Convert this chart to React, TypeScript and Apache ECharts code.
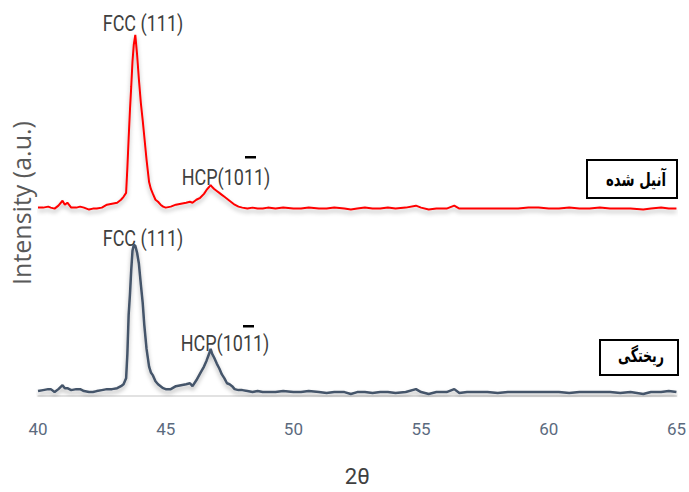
import React, { useEffect, useRef } from "react";
import * as echarts from "echarts";

// 2θ sampling positions (degrees)
const twoTheta = [
  40.0, 40.2, 40.4, 40.5, 40.65, 40.8, 40.96, 41.05, 41.15, 41.3, 41.5, 41.65, 41.8, 42.0, 42.15, 42.3, 42.5, 42.7, 42.9, 43.1,
  43.25, 43.35, 43.45, 43.5, 43.55, 43.6, 43.65, 43.7, 43.75, 43.81, 43.88, 43.95, 44.03, 44.1, 44.16, 44.25, 44.35, 44.42, 44.5, 44.6,
  44.7, 44.8, 44.9, 45.0, 45.2, 45.4, 45.6, 45.8, 45.95, 46.05, 46.2, 46.35, 46.5, 46.6, 46.7, 46.76, 46.82, 46.9, 47.0, 47.1,
  47.2, 47.3, 47.4, 47.5, 47.6, 47.7, 47.85, 48.0, 48.2, 48.4, 48.6, 48.8, 49.0, 49.3, 49.6, 50.0, 50.3, 50.6, 51.0, 51.3,
  51.6, 52.0, 52.25, 52.5, 52.8, 53.1, 53.4, 53.7, 54.0, 54.4, 54.8, 55.0, 55.3, 55.6, 56.0, 56.3, 56.5, 56.8, 57.2, 57.6,
  58.0, 58.4, 58.8, 59.2, 59.6, 60.0, 60.4, 60.8, 61.2, 61.6, 62.0, 62.4, 62.8, 63.2, 63.7, 64.0, 64.4, 64.7, 65.0,
];

// Annealed sample (آنیل شده), intensity above its own baseline
const annealed = [
  2, 2, 3, 2, 1, 4, 9, 5, 7, 2, 2, 3, 2, 0, 1, 1, 2, 5, 6, 7,
  10, 13, 17, 43, 73, 101, 125, 151, 168, 178, 158, 133, 108, 91, 75, 51, 28, 21, 16, 10,
  8, 5, 3, 2, 3, 5, 6, 7, 8, 7, 10, 12, 16, 20, 23, 25, 23, 21, 19, 17,
  15, 13, 11, 9, 7, 5, 3, 2, 1, 2, 1, 1, 2, 1, 2, 1, 1, 2, 1, 1,
  2, 1, 0, 1, 2, 1, 1, 2, 1, 2, 4, 2, 0, 1, 1, 4, 1, 1, 1, 1,
  1, 1, 1, 2, 2, 1, 1, 2, 1, 1, 2, 1, 1, 1, 0, 1, 2, 1, 1,
];

// As-cast sample (ریختگی)
const asCast = [
  5, 6, 7, 7, 4, 7, 11, 8, 8, 6, 7, 7, 5, 4, 4, 5, 6, 7, 7, 8,
  10, 12, 18, 43, 83, 103, 128, 148, 154, 153, 146, 135, 113, 95, 73, 48, 30, 24, 21, 15,
  12, 10, 8, 7, 7, 10, 11, 12, 13, 10, 16, 23, 30, 36, 43, 48, 43, 39, 33, 28,
  22, 18, 13, 12, 10, 7, 6, 6, 5, 4, 5, 4, 4, 4, 5, 4, 4, 5, 4, 3,
  4, 4, 2, 4, 4, 3, 4, 4, 3, 4, 7, 4, 2, 4, 4, 7, 3, 4, 4, 4,
  3, 4, 4, 4, 4, 4, 4, 3, 4, 4, 4, 4, 3, 4, 2, 4, 4, 5, 4,
];

const annealedOffset = 190;
const xTicks = { min: 40, max: 65, interval: 5 };

const labelFont = 'Roboto, "Liberation Sans", sans-serif';
const arabicFont = '"DejaVu Sans", sans-serif';

export default function App() {
  const ref = useRef<HTMLDivElement>(null);
  useEffect(() => {
    if (!ref.current) return;
    const chart = echarts.init(ref.current, null, { renderer: "svg" });
    const shadow = {
      shadowColor: "rgba(0,0,0,0.3)",
      shadowBlur: 4,
      shadowOffsetY: 3,
    };
    const peakLabel = (text: string, x: number, y: number) => ({
      type: "text",
      x,
      y,
      scaleX: 0.8,
      style: { text, fill: "#404040", fontSize: 22.5, fontFamily: labelFont, align: "center", verticalAlign: "middle" },
    });
    chart.setOption({
      animation: false,
      backgroundColor: "#ffffff",
      grid: { left: 38, right: 8, top: 31, bottom: 89 },
      xAxis: {
        type: "value",
        min: xTicks.min,
        max: xTicks.max,
        interval: xTicks.interval,
        axisLine: { show: true, lineStyle: { color: "#d9d9d9", width: 1.5 } },
        axisTick: { show: false },
        splitLine: { show: false },
        axisLabel: { color: "#5b6a7e", fontSize: 17, margin: 24, fontFamily: labelFont },
        name: "2θ",
        nameLocation: "middle",
        nameGap: 69,
        nameTextStyle: { color: "#404040", fontSize: 22, fontFamily: labelFont },
      },
      yAxis: {
        type: "value",
        min: 0,
        max: 372,
        axisLine: { show: false },
        axisTick: { show: false },
        axisLabel: { show: false },
        splitLine: { show: false },
      },
      series: [
        {
          name: "ریختگی",
          type: "line",
          showSymbol: false,
          data: twoTheta.map((x, i) => [x, asCast[i]]),
          lineStyle: { color: "#44546a", width: 2.5, ...shadow },
        },
        {
          name: "آنیل شده",
          type: "line",
          showSymbol: false,
          data: twoTheta.map((x, i) => [x, annealed[i] + annealedOffset]),
          lineStyle: { color: "#ff0000", width: 2, ...shadow },
        },
      ],
      graphic: [
        {
          type: "text",
          x: 21,
          y: 203,
          rotation: Math.PI / 2,
          style: {
            text: "Intensity (a.u.)",
            fill: "#595959",
            fontSize: 25,
            fontFamily: '"Open Sans", sans-serif',
            align: "center",
            verticalAlign: "middle",
          },
        },
        peakLabel("FCC (111)", 143, 23),
        peakLabel("FCC (111)", 143, 238),
        peakLabel("HCP(1011)", 226, 177),
        peakLabel("HCP(1011)", 225, 343),
        { type: "rect", shape: { x: 245, y: 156, width: 11, height: 2.5 }, style: { fill: "#000" } },
        { type: "rect", shape: { x: 243, y: 325, width: 11, height: 2.5 }, style: { fill: "#000" } },
        {
          type: "rect",
          shape: { x: 587, y: 160, width: 90, height: 38 },
          style: { fill: "#fff", stroke: "#000", lineWidth: 2 },
        },
        {
          type: "text",
          x: 636,
          y: 180,
          scaleX: 0.7,
          style: { text: "آنیل شده", fill: "#000", fontSize: 19, fontWeight: "bold", fontFamily: arabicFont, align: "center", verticalAlign: "middle" },
        },
        {
          type: "rect",
          shape: { x: 600, y: 340, width: 78, height: 35 },
          style: { fill: "#fff", stroke: "#000", lineWidth: 2 },
        },
        {
          type: "text",
          x: 641,
          y: 356,
          scaleX: 0.66,
          style: { text: "ریختگی", fill: "#000", fontSize: 19, fontWeight: "bold", fontFamily: arabicFont, align: "center", verticalAlign: "middle" },
        },
      ],
    });
    return () => chart.dispose();
  }, []);
  return <div ref={ref} style={{ width: 689, height: 492, position: "absolute", left: 0, top: 0 }} />;
}
